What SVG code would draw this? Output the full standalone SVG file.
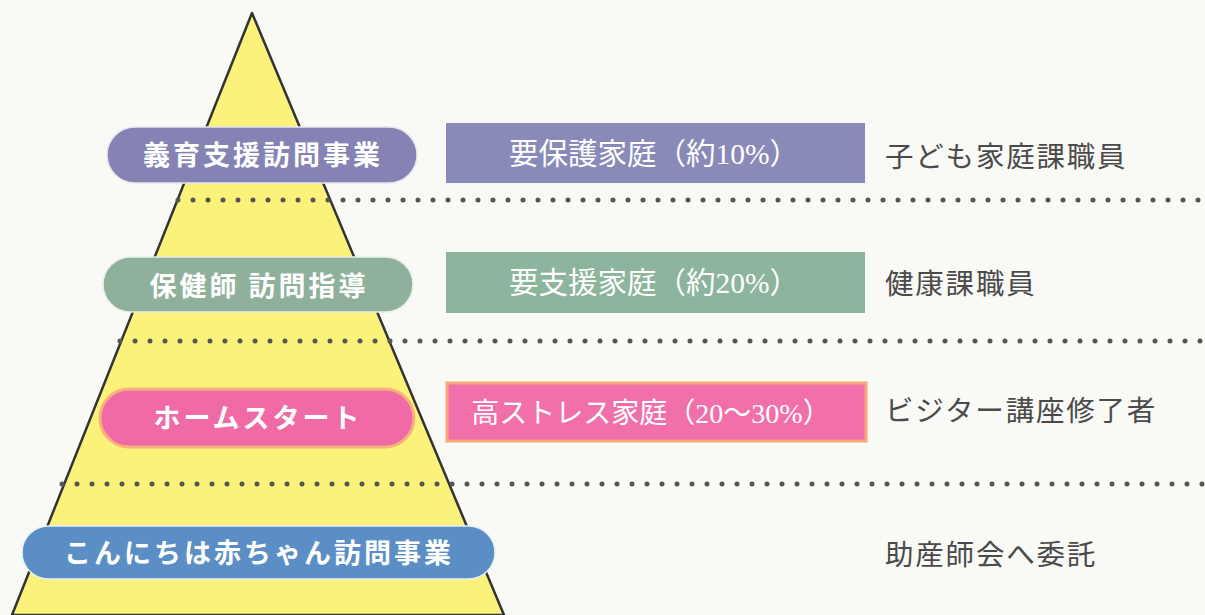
<svg xmlns="http://www.w3.org/2000/svg" width="1205" height="615" viewBox="0 0 1205 615">
<style>
.pilltxt{font-family:"Noto Sans CJK JP","Noto Sans",sans-serif;font-weight:700;font-size:27px;letter-spacing:3px;fill:#ffffff;text-anchor:middle}
.boxtxt{font-family:"Liberation Serif","Noto Sans CJK JP",serif;font-size:29.5px;fill:#ffffff;text-anchor:middle}
.side{font-family:"Noto Sans CJK JP","Noto Sans",sans-serif;font-size:28.5px;letter-spacing:1.8px;fill:#4a4a4a}
.dots{stroke:#555555;stroke-width:5;stroke-linecap:round;stroke-dasharray:0 15;fill:none}
</style>
<rect x="0" y="0" width="1205" height="615" fill="#f9f9f6"/>
<g id="pyramid">
<polygon points="252,13 12,615 504,615" fill="#faf27a" stroke="#333333" stroke-width="2.5" stroke-linejoin="round"/>
</g>
<g id="connectors">
<line class="dots" x1="178" y1="200" x2="1205" y2="200"/>
<line class="dots" x1="120" y1="341" x2="1205" y2="341"/>
<line class="dots" x1="62" y1="484" x2="1205" y2="484"/>
</g>
<g id="pill1">
<rect x="107" y="127" width="310" height="56" rx="28" fill="#8483b3" stroke="#e6e6f0" stroke-width="1.5"/>
<text class="pilltxt" x="263" y="165">義育支援訪問事業</text>
</g>
<g id="pill2">
<rect x="103" y="257" width="310" height="55" rx="27.5" fill="#8fb19b" stroke="#e8efe9" stroke-width="1.5"/>
<text class="pilltxt" x="259" y="296">保健師 訪問指導</text>
</g>
<g id="pill3">
<rect x="100" y="389" width="314" height="58" rx="29" fill="#f06aa6" stroke="#f6b27a" stroke-width="3"/>
<text class="pilltxt" x="258" y="428">ホームスタート</text>
</g>
<g id="pill4">
<rect x="22" y="526" width="473" height="53" rx="26.5" fill="#5b8ec4" stroke="#e6eef6" stroke-width="1.5"/>
<text class="pilltxt" x="259" y="563">こんにちは赤ちゃん訪問事業</text>
</g>
<g id="box1">
<rect x="446" y="123" width="419" height="60" fill="#8a8ab9"/>
<text class="boxtxt" x="654" y="164">要保護家庭（約10%）</text>
</g>
<g id="box2">
<rect x="446" y="252" width="419" height="61" fill="#8db49c"/>
<text class="boxtxt" x="654" y="293">要支援家庭（約20%）</text>
</g>
<g id="box3">
<rect x="447" y="383" width="419" height="58" fill="#f170a9" stroke="#f7a77a" stroke-width="3"/>
<text class="boxtxt" x="651" y="423" style="font-size:28px">高ストレス家庭（20～30%）</text>
</g>
<g id="side1"><text class="side" x="885" y="167">子ども家庭課職員</text></g>
<g id="side2"><text class="side" x="885" y="294">健康課職員</text></g>
<g id="side3"><text class="side" x="885" y="421">ビジター講座修了者</text></g>
<g id="side4"><text class="side" x="885" y="565">助産師会へ委託</text></g>
</svg>
